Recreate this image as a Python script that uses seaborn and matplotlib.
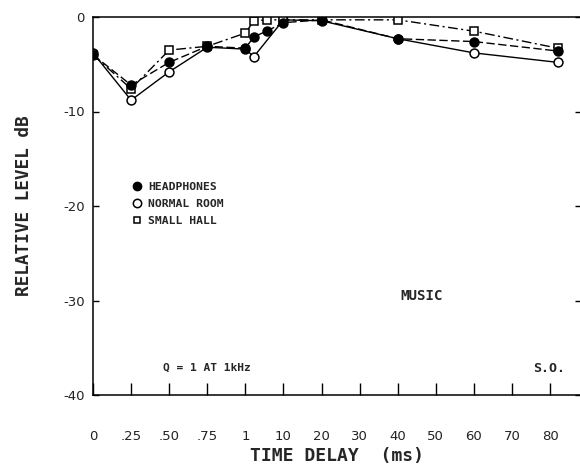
import numpy as np
import pandas as pd
import matplotlib
matplotlib.use("Agg")
import matplotlib.pyplot as plt
from matplotlib.lines import Line2D
import seaborn as sns

# Time-delay axis: tick values (ms) and their labels
tick_ms = [0, 0.25, 0.5, 0.75, 1, 10, 20, 30, 40, 50, 60, 70, 80]
tick_labels = ["0", ".25", ".50", ".75", "1", "10", "20", "30", "40", "50", "60", "70", "80"]

# Measured relative level (dB) versus delay (ms)
headphones_ms = [0, 0.25, 0.5, 0.75, 1, 3, 6, 10, 20, 40, 60, 82]
headphones_db = [-4.0, -7.2, -4.8, -3.1, -3.3, -2.1, -1.5, -0.6, -0.3, -2.3, -2.6, -3.6]

normal_room_ms = [0, 0.25, 0.5, 0.75, 1, 3, 10, 20, 40, 60, 82]
normal_room_db = [-3.8, -8.8, -5.8, -3.2, -3.4, -4.2, -0.3, -0.4, -2.3, -3.8, -4.8]

small_hall_ms = [0, 0.25, 0.5, 0.75, 1, 3, 6, 10, 20, 40, 60, 82]
small_hall_db = [-4.0, -7.6, -3.5, -3.1, -1.7, -0.4, -0.3, -0.3, -0.3, -0.3, -1.5, -3.3]

y_ticks = [0, -10, -20, -30, -40]
y_tick_labels = ["0", "-10", "-20", "-30", "-40"]

# Piecewise axis: equal spacing between successive tick values
_pos_ms = tick_ms + [90]
_pos_idx = list(range(len(tick_ms))) + [len(tick_ms)]


def to_axis(ms):
    return np.interp(ms, _pos_ms, _pos_idx)


sns.set_theme(style="white")
plt.rcParams["font.family"] = ["DejaVu Sans"]

fig = plt.figure(figsize=(5.8, 4.67), dpi=100)
ax = fig.add_axes([93 / 580, 72 / 467, 488 / 580, 378 / 467])

mono = "DejaVu Sans Mono"

series = [
    ("NORMAL ROOM", normal_room_ms, normal_room_db, "-", "o", "white", 6.4),
    ("SMALL HALL", small_hall_ms, small_hall_db, (0, (7, 2.5, 1.5, 2.5)), "s", "white", 5.4),
    ("HEADPHONES", headphones_ms, headphones_db, (0, (6, 2.5)), "o", "black", 6.4),
]

for name, ms, db, ls, mk, face, msz in series:
    df = pd.DataFrame({"pos": to_axis(ms), "db": db})
    sns.lineplot(data=df, x="pos", y="db", ax=ax, color="black", linewidth=1.0,
                 linestyle=ls, marker=mk, markerfacecolor=face,
                 markeredgecolor="black", markeredgewidth=1.1, markersize=msz,
                 estimator=None, sort=True, legend=False)

ax.set_xlim(0, 12.81)
ax.set_ylim(-40, 0)

ax.set_xticks(range(len(tick_ms)))
ax.set_xticklabels(tick_labels, fontsize=9.5, color="#222222")
ax.set_yticks(y_ticks)
ax.set_yticklabels(y_tick_labels, fontsize=9.5, color="#222222")

ax.tick_params(axis="x", direction="in", length=8.5, width=1.0, pad=25,
               bottom=True, top=False, color="black")
ax.tick_params(axis="y", direction="in", length=4.5, width=1.0, pad=6,
               left=True, right=True, color="black")

for side in ["left", "bottom", "top"]:
    ax.spines[side].set_visible(True)
    ax.spines[side].set_color("black")
    ax.spines[side].set_linewidth(1.1)
ax.spines["right"].set_visible(False)

ax.set_xlabel("TIME DELAY  (ms)", fontsize=13, fontfamily=mono, fontweight="bold")
ax.set_ylabel("RELATIVE LEVEL dB", fontsize=12.8, fontfamily=mono, fontweight="bold")
ax.xaxis.set_label_coords(0.5, -0.1376)
ax.yaxis.set_label_coords(-0.123, 0.5)

# Key of marker symbols
handles = [
    Line2D([], [], linestyle="none", marker="o", markerfacecolor="black",
           markeredgecolor="black", markersize=6.0),
    Line2D([], [], linestyle="none", marker="o", markerfacecolor="white",
           markeredgecolor="black", markeredgewidth=1.1, markersize=6.0),
    Line2D([], [], linestyle="none", marker="s", markerfacecolor="white",
           markeredgecolor="black", markeredgewidth=1.1, markersize=5.0),
]
ax.legend(handles, ["HEADPHONES", "NORMAL ROOM", "SMALL HALL"],
          loc="upper left", bbox_to_anchor=(0.0775, 0.5635), frameon=False,
          borderpad=0, borderaxespad=0, handlelength=1.0, handletextpad=0.55,
          labelspacing=0.62, prop={"family": mono, "weight": "bold", "size": 8.2})

ax.text(0.629, 0.262, "MUSIC", transform=ax.transAxes, fontfamily=mono,
        fontweight="bold", fontsize=10.2, va="center", ha="left")
ax.text(0.1434, 0.0714, "Q = 1 AT 1kHz", transform=ax.transAxes, fontfamily=mono,
        fontweight="bold", fontsize=8.1, va="center", ha="left")
ax.text(0.9016, 0.0714, "S.O.", transform=ax.transAxes, fontfamily=mono,
        fontweight="bold", fontsize=9.5, va="center", ha="left")

fig.savefig("out.png", dpi=100, facecolor="white")
